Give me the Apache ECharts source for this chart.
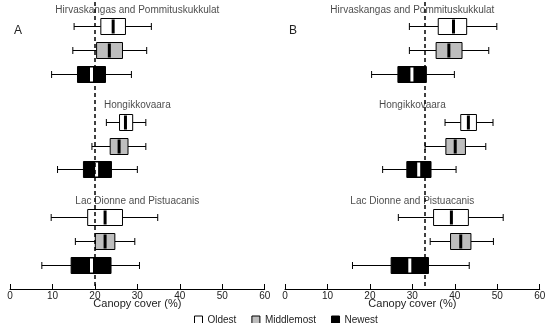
<!DOCTYPE html>
<html>
<head>
<meta charset="utf-8">
<script src="https://cdn.jsdelivr.net/npm/echarts@6/dist/echarts.min.js"></script>
<style>html,body{margin:0;padding:0;background:#fff}#c{width:550px;height:323px}</style>
</head>
<body>
<div id="c"></div>
<script>
// ---- data ----
const sites = ['Hirvaskangas and Pommituskukkulat', 'Hongikkovaara', 'Lac Dionne and Pistuacanis'];
const ageClasses = ['Oldest', 'Middlemost', 'Newest'];
const panelLabels = ['A', 'B'];
const xTicks = [0, 10, 20, 30, 40, 50, 60];
// each row: [min, Q1, median, Q3, max] per site
const A_oldest = [[15.1, 21.4, 24.3, 27.2, 33.3], [22.7, 25.8, 27.2, 28.9, 32.0], [9.7, 18.3, 22.4, 26.5, 34.8]];
const A_middle = [[14.8, 20.4, 23.4, 26.5, 32.2], [19.3, 23.6, 25.7, 27.8, 32.0], [15.4, 20.1, 22.4, 24.7, 29.4]];
const A_newest = [[9.8, 15.9, 19.2, 22.5, 28.6], [11.2, 17.3, 20.4, 23.9, 30.0], [7.5, 14.4, 19.2, 23.8, 30.5]];
const B_oldest = [[29.3, 36.1, 39.7, 42.8, 49.9], [37.7, 41.4, 43.2, 45.1, 49.0], [26.7, 35.0, 39.2, 43.2, 51.4]];
const B_middle = [[29.3, 35.6, 38.6, 41.7, 48.0], [33.0, 37.9, 40.1, 42.5, 47.3], [34.2, 39.0, 41.4, 43.8, 49.1]];
const B_newest = [[20.4, 26.6, 29.9, 33.3, 39.9], [23.0, 28.7, 31.5, 34.4, 40.3], [15.9, 25.0, 29.4, 33.8, 43.4]];
const refLines = [20, 33];

// ---- styling ----
const fills = ['#ffffff', '#bebebe', '#000000'];
const medianColors = ['#000000', '#000000', '#ffffff'];
const FONT = 'Liberation Sans, Arial, sans-serif';
const panels = [[A_oldest, A_middle, A_newest], [B_oldest, B_middle, B_newest]];

function renderBox(ci) {
  return function (params, api) {
    const pos = api.value(0);
    const c = v => api.coord([v, pos]);
    const y = Math.round(c(api.value(3))[1]) + 0.5;
    const xmin = c(api.value(1))[0], q1 = c(api.value(2))[0], med = c(api.value(3))[0],
      q3 = c(api.value(4))[0], xmax = c(api.value(5))[0];
    const h = 16, cap = 7;
    const ls = { stroke: '#000', lineWidth: 1 };
    return {
      type: 'group',
      children: [
        { type: 'line', shape: { x1: xmin, y1: y, x2: q1, y2: y }, style: ls },
        { type: 'line', shape: { x1: q3, y1: y, x2: xmax, y2: y }, style: ls },
        { type: 'line', shape: { x1: xmin, y1: y - cap / 2, x2: xmin, y2: y + cap / 2 }, style: ls },
        { type: 'line', shape: { x1: xmax, y1: y - cap / 2, x2: xmax, y2: y + cap / 2 }, style: ls },
        { type: 'rect', shape: { x: q1, y: y - h / 2, width: q3 - q1, height: h }, style: { fill: fills[ci], stroke: '#000', lineWidth: 1 } },
        { type: 'line', shape: { x1: med, y1: y - h / 2 + 1, x2: med, y2: y + h / 2 - 1 }, style: { stroke: medianColors[ci], lineWidth: 3 } }
      ]
    };
  };
}

const grids = [], xAxes = [], yAxes = [], series = [], titles = [];
panels.forEach((panel, pi) => {
  grids.push({ left: pi === 0 ? 10 : 285, width: 254.7, top: 2, height: 287 });
  xAxes.push({
    gridIndex: pi, type: 'value', min: 0, max: 60, interval: 10, position: 'bottom',
    axisLine: { show: true, onZero: false, lineStyle: { color: '#000', width: 1 } },
    axisTick: { show: true, inside: true, length: 5, lineStyle: { color: '#000' } },
    axisLabel: { color: '#222', fontSize: 10, fontFamily: FONT, margin: 2 },
    splitLine: { show: false },
    name: 'Canopy cover (%)', nameLocation: 'middle', nameGap: 9, nameMoveOverlap: false,
    nameTextStyle: { color: '#222', fontSize: 11, fontFamily: FONT }
  });
  yAxes.push({ gridIndex: pi, type: 'value', inverse: true, min: 0, max: 12, show: false });
  panel.forEach((rows, ci) => {
    series.push({
      name: ageClasses[ci], type: 'custom', xAxisIndex: pi, yAxisIndex: pi,
      renderItem: renderBox(ci),
      itemStyle: { color: fills[ci], borderColor: '#000', borderWidth: 1 },
      encode: { x: [1, 2, 3, 4, 5], y: 0 },
      data: rows.map((r, si) => [1 + si * 4 + ci].concat(r)),
      markLine: ci === 0 ? {
        silent: true, symbol: 'none', label: { show: false },
        lineStyle: { color: '#000', type: [4, 3], width: 1.5 },
        data: [{ xAxis: refLines[pi] }]
      } : undefined,
      z: 3
    });
  });
  series.push({
    type: 'scatter', xAxisIndex: pi, yAxisIndex: pi, symbolSize: 0, silent: true,
    label: { show: true, position: 'inside', formatter: '{b}', color: '#1a1a1a', fontSize: 10, fontFamily: FONT, textBorderWidth: 0 },
    data: sites.map((s, si) => ({ name: s, value: [30, si * 4 + 0.33] })),
    z: 5
  });
  titles.push({
    text: panelLabels[pi], left: pi === 0 ? 9 : 284, top: 20,
    textStyle: { fontSize: 12, fontWeight: 'normal', color: '#222', fontFamily: FONT }
  });
});

const chart = echarts.init(document.getElementById('c'), null, { renderer: 'canvas' });
chart.setOption({
  animation: false,
  backgroundColor: '#fff',
  title: titles,
  grid: grids,
  xAxis: xAxes,
  yAxis: yAxes,
  legend: {
    data: ageClasses.map((n, i) => ({ name: n, icon: 'rect', itemStyle: { color: fills[i], borderColor: '#000', borderWidth: 1 } })),
    left: 189, top: 310, itemWidth: 8, itemHeight: 8, itemGap: 15, selectedMode: false,
    textStyle: { color: '#222', fontSize: 10, fontFamily: FONT }
  },
  series: series
});
</script>
</body>
</html>
